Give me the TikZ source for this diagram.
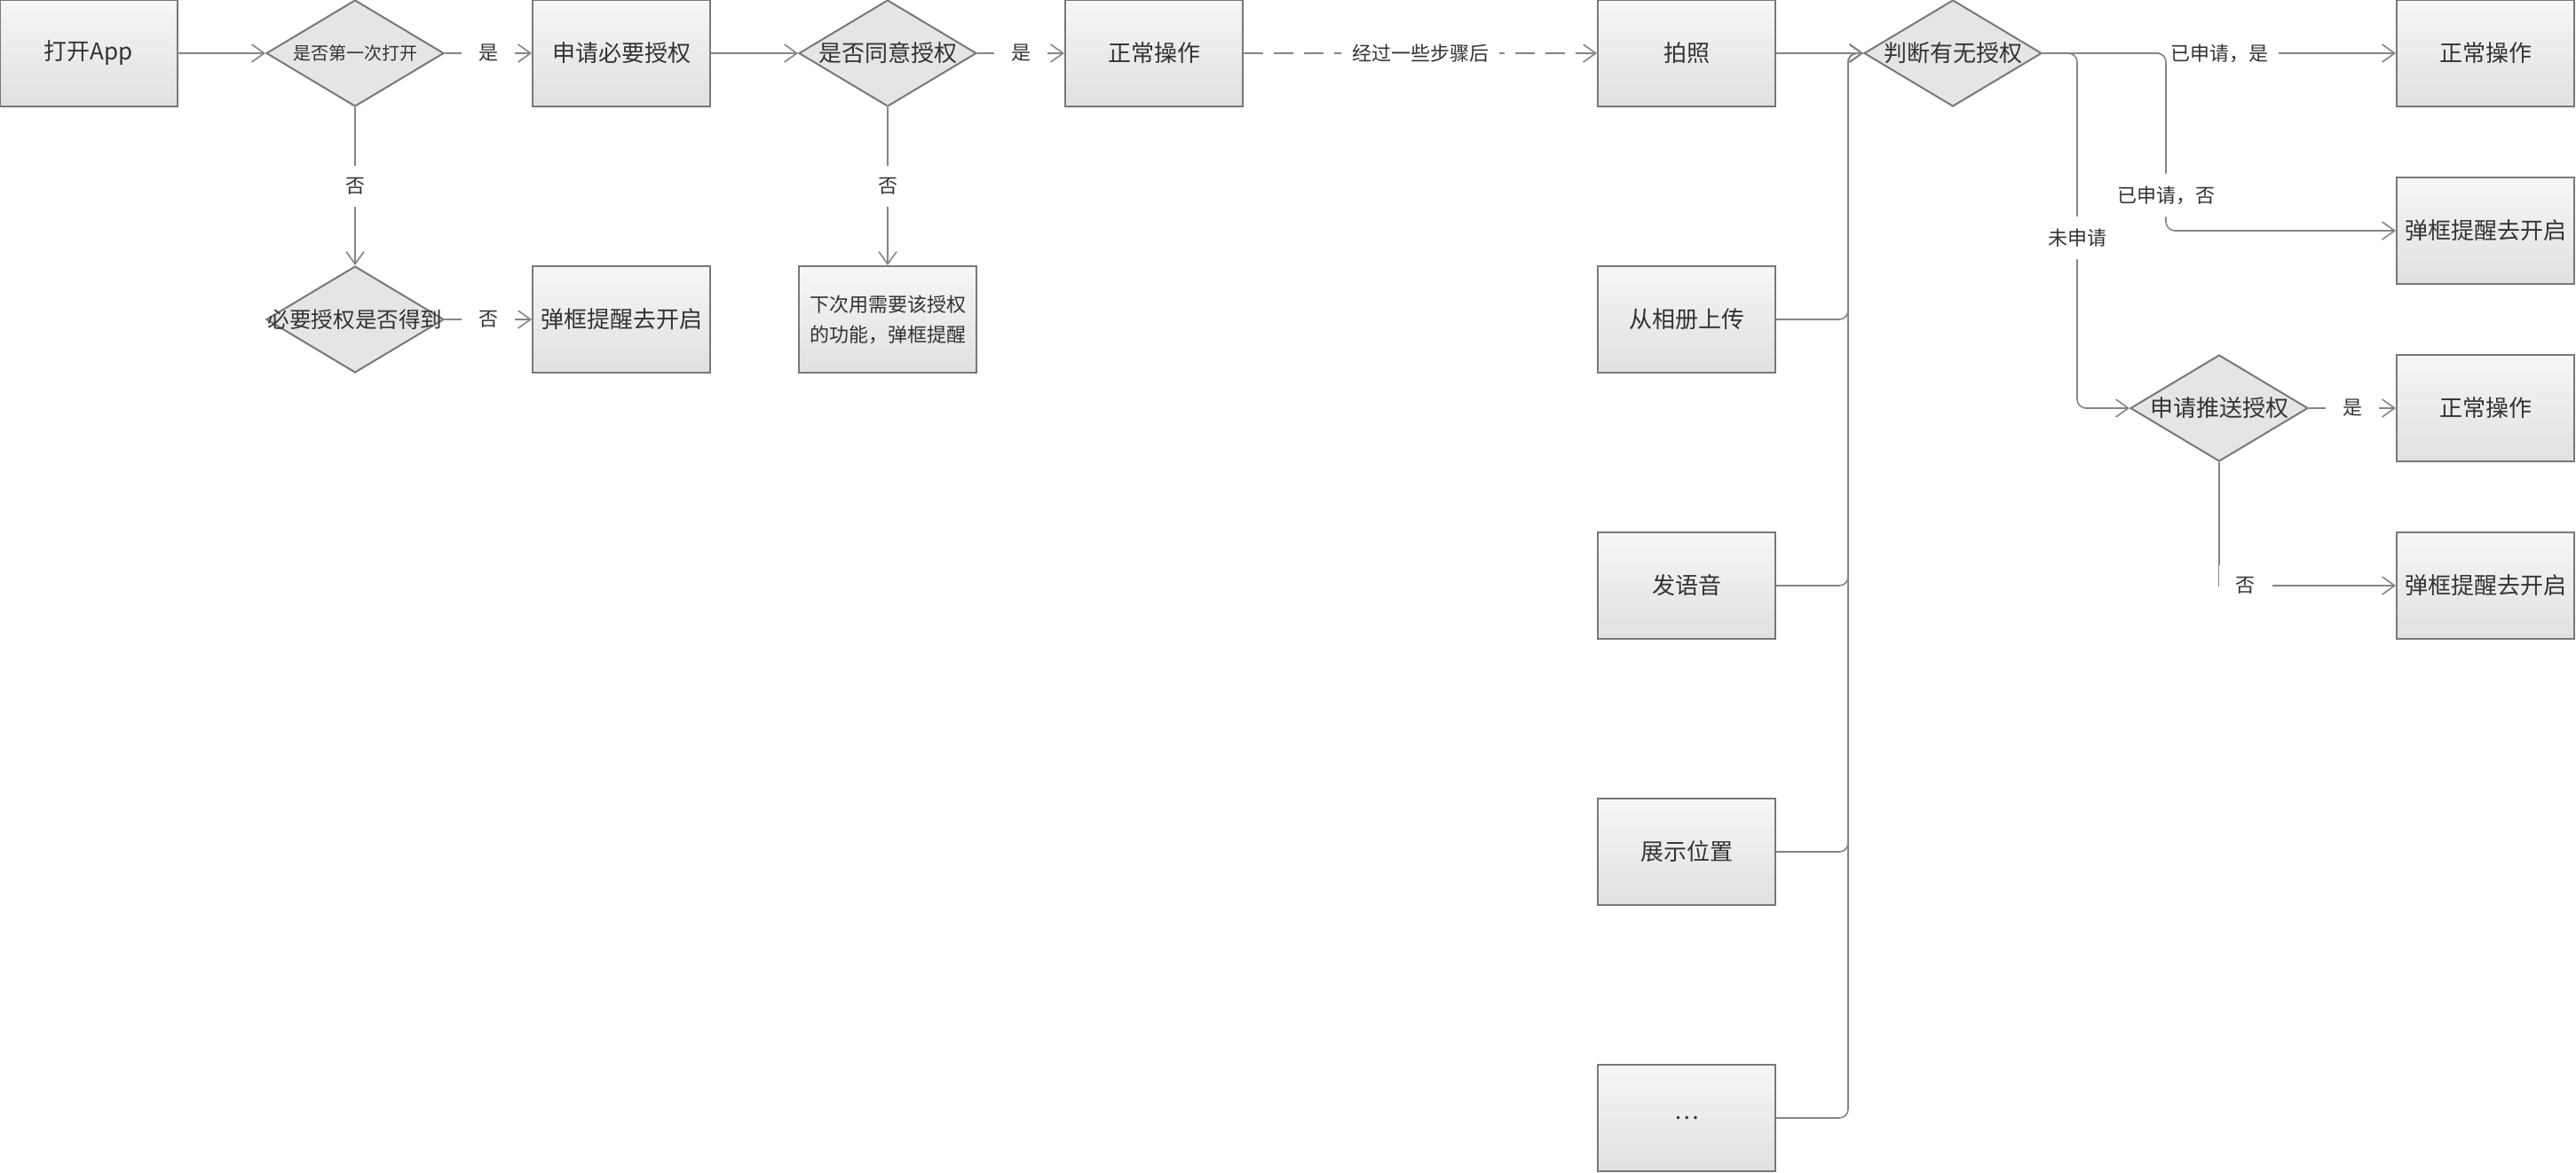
\documentclass[tikz,border=0pt]{standalone}
\usepackage{fontspec}
\setmainfont{Noto Sans CJK SC}
\usepackage{tikz}
\usetikzlibrary{shapes.geometric,arrows.meta,shadings}
\definecolor{rand}{gray}{0.47}
\definecolor{linie}{gray}{0.52}
\definecolor{oben}{gray}{0.965}
\definecolor{unten}{gray}{0.88}
\definecolor{raute}{gray}{0.9}
\definecolor{schrift}{gray}{0.2}
\newcommand{\fs}[2]{\fontsize{#1}{#2}\selectfont}

\begin{document}
\begin{tikzpicture}[x=50pt, y=-50pt,
  font=\fs{13pt}{15pt},
  >={Straight Barb[length=7pt,width=10pt]},   % offene Pfeilspitzen
  kasten/.style={rectangle, draw=rand, line width=1pt, top color=oben, bottom color=unten,
    minimum width=100pt, minimum height=60pt, inner sep=0pt, text=schrift},
  frage/.style={diamond, draw=rand, line width=1pt, fill=raute,
    minimum width=100pt, minimum height=60pt, inner sep=0pt, text=schrift,
    execute at begin node={\hbox to 0pt\bgroup\hss}, execute at end node={\hss\egroup}},
  pfeil/.style={->, draw=linie, line width=0.8pt},
  marke/.style={fill=white, text=schrift, font=\fs{11pt}{13pt}, inner xsep=6pt, inner ysep=7pt,
    minimum width=30pt}]

\useasboundingbox (0,0) rectangle (29.02,13.22);

% Erster Start
\node[kasten] (app)  at (1,0.6)  {打开App};
\node[frage, font=\fs{10pt}{12pt}] (erst) at (4,0.6) {是否第一次打开};
\node[kasten] (noetig) at (7,0.6) {申请必要授权};
\node[frage] (zustimm) at (10,0.6) {是否同意授权};
\node[kasten] (normal) at (13,0.6) {正常操作};
\node[frage, font=\fs{12.3pt}{14pt}] (erhalten) at (4,3.6) {必要授权是否得到};
\node[kasten] (hinweis) at (7,3.6) {弹框提醒去开启};
\node[kasten, align=center, font=\fs{11pt}{17pt}] (spaeter) at (10,3.6) {下次用需要该授权\\的功能，弹框提醒};

% Funktionen
\node[kasten] (foto) at (19,0.6) {拍照};
\foreach \name/\txt/\y in {album/从相册上传/3.6, sprache/发语音/6.6, ort/展示位置/9.6, rest/…/12.6}
  \node[kasten] (\name) at (19,\y) {\txt};

% Pruefung der Rechte
\node[frage] (pruef) at (22,0.6) {判断有无授权};
\node[frage] (push) at (25,4.6) {申请推送授权};
\node[kasten] (okA)  at (28,0.6) {正常操作};
\node[kasten] (popA) at (28,2.6) {弹框提醒去开启};
\node[kasten] (okB)  at (28,4.6) {正常操作};
\node[kasten] (popB) at (28,6.6) {弹框提醒去开启};

\coordinate (bus) at (20.82,0.6);
\coordinate (splitA) at (24.4,0.6);
\coordinate (splitB) at (23.4,0.6);

% Pfeile links
\draw[pfeil] (app) -- (erst);
\draw[pfeil] (erst) -- node[marke] {是} (noetig);
\draw[pfeil] (erst) -- node[marke] {否} (erhalten);
\draw[pfeil] (erhalten) -- node[marke] {否} (hinweis);
\draw[pfeil] (noetig) -- (zustimm);
\draw[pfeil] (zustimm) -- node[marke] {是} (normal);
\draw[pfeil] (zustimm) -- node[marke] {否} (spaeter);
\draw[pfeil, dash pattern=on 11pt off 6pt] (normal) -- node[marke] {经过一些步骤后} (foto);

% Sammelleitung
\draw[pfeil] (foto) -- (pruef);
\foreach \q in {album,sprache,ort,rest}
  \draw[pfeil, rounded corners=5pt] (\q.east) -| (bus) -- (pruef.west);

% Pfeile rechts
\draw[pfeil] (pruef) -- node[marke] {已申请，是} (okA);
\draw[pfeil, rounded corners=5pt] (pruef.east) -- (splitA) |- node[marke, pos=0.4] {已申请，否} (popA.west);
\draw[pfeil, rounded corners=5pt] (pruef.east) -- (splitB) |- node[marke, pos=0.26] {未申请} (push.west);
\draw[pfeil] (push) -- node[marke] {是} (okB);
\draw[pfeil] (push.south) |- node[marke, pos=0.575] {否} (popB.west);

\end{tikzpicture}
\end{document}
